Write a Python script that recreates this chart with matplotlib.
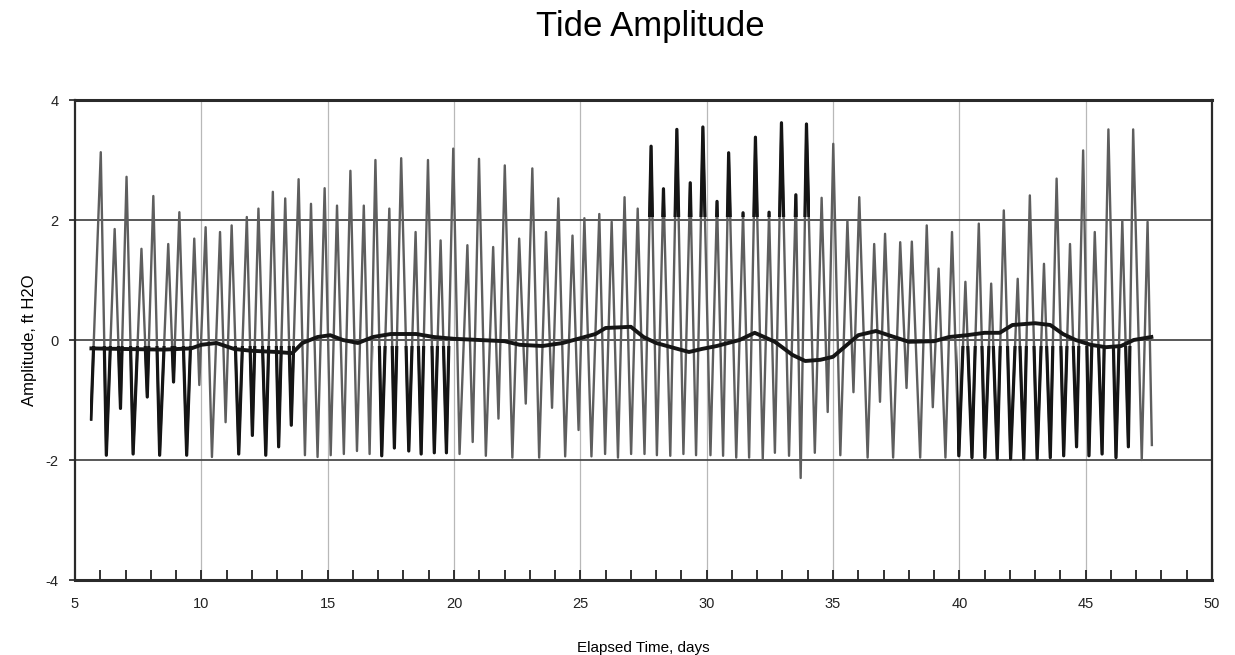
#!/usr/bin/env python3

import numpy as np
import matplotlib
matplotlib.use("Agg")
import matplotlib.pyplot as plt
from matplotlib.patches import Rectangle

# High and low tides, in time order (days, ft H2O)
high_t = [6.02, 6.57, 7.04, 7.63, 8.10, 8.69, 9.13, 9.72, 10.17, 10.74,
          11.20, 11.80, 12.26, 12.83, 13.32, 13.85, 14.34, 14.88, 15.37, 15.90,
          16.43, 16.89, 17.44, 17.91, 18.48, 18.97, 19.47, 19.97, 20.53, 20.99,
          21.55, 22.01, 22.58, 23.10, 23.64, 24.13, 24.69, 25.16, 25.75, 26.24,
          26.75, 27.27, 27.80, 28.29, 28.82, 29.35, 29.85, 30.41, 30.87, 31.44,
          31.93, 32.47, 32.96, 33.53, 33.95, 34.55, 35.01, 35.57, 36.04, 36.63,
          37.06, 37.66, 38.12, 38.71, 39.18, 39.71, 40.24, 40.77, 41.26, 41.76,
          42.31, 42.79, 43.35, 43.85, 44.38, 44.90, 45.36, 45.90, 46.45, 46.88,
          47.45]
high_v = [3.13, 1.85, 2.72, 1.52, 2.40, 1.60, 2.13, 1.69, 1.88, 1.80,
          1.91, 2.05, 2.19, 2.47, 2.36, 2.68, 2.27, 2.53, 2.24, 2.82,
          2.24, 3.00, 2.19, 3.03, 1.80, 3.00, 1.66, 3.19, 1.58, 3.02,
          1.55, 2.91, 1.69, 2.86, 1.80, 2.36, 1.74, 2.03, 2.10, 1.97,
          2.38, 2.19, 3.23, 2.52, 3.51, 2.62, 3.55, 2.31, 3.12, 2.12,
          3.38, 2.13, 3.62, 2.42, 3.60, 2.37, 3.27, 1.99, 2.38, 1.60,
          1.77, 1.63, 1.64, 1.91, 1.19, 1.80, 0.97, 1.94, 0.94, 2.16,
          1.02, 2.41, 1.27, 2.69, 1.60, 3.16, 1.80, 3.51, 1.99, 3.51,
          1.97]
# first and last entries are the start and end of the record
low_t = [5.63, 6.24, 6.80, 7.30, 7.86, 8.35, 8.90, 9.42, 9.92, 10.42, 10.96,
         11.48, 12.02, 12.55, 13.06, 13.56, 14.10, 14.60, 15.12, 15.64, 16.16,
         16.66, 17.14, 17.64, 18.21, 18.70, 19.22, 19.70, 20.22, 20.74, 21.26,
         21.76, 22.31, 22.84, 23.37, 23.88, 24.40, 24.93, 25.44, 25.98, 26.49,
         27.01, 27.54, 28.03, 28.56, 29.08, 29.58, 30.15, 30.65, 31.17, 31.68,
         32.22, 32.70, 33.26, 33.72, 34.28, 34.79, 35.29, 35.81, 36.37, 36.86,
         37.38, 37.91, 38.45, 38.95, 39.45, 39.98, 40.50, 41.01, 41.50, 42.03,
         42.55, 43.08, 43.60, 44.13, 44.64, 45.13, 45.65, 46.20, 46.69, 47.22,
         47.62]
low_v = [-1.32, -1.92, -1.14, -1.90, -0.95, -1.92, -0.70, -1.92, -0.75, -1.95, -1.37,
         -1.90, -1.59, -1.92, -1.78, -1.42, -1.92, -1.95, -1.92, -1.90, -1.85,
         -1.90, -1.93, -1.80, -1.85, -1.90, -1.88, -1.88, -1.90, -1.70, -1.93,
         -1.31, -1.96, -1.06, -1.96, -1.13, -1.94, -1.50, -1.94, -1.90, -1.96,
         -1.90, -1.90, -1.92, -1.93, -1.90, -1.92, -1.92, -1.93, -1.96, -1.96,
         -1.98, -1.88, -1.93, -2.30, -1.88, -1.20, -1.92, -0.87, -1.96, -1.03,
         -1.96, -0.80, -1.96, -1.12, -1.96, -1.93, -1.96, -1.96, -1.98, -1.98,
         -1.98, -1.98, -1.96, -1.93, -1.78, -1.93, -1.90, -1.96, -1.78, -2.00,
         -1.75]

# slowly varying mean level (thick line)
mean_t = [5.65, 7.0, 8.5, 9.6, 10.0, 10.6, 11.3, 12.0, 13.0, 13.6, 14.0, 14.6,
          15.1, 15.6, 16.2, 16.8, 17.5, 18.5, 19.2, 20.0, 21.0, 22.0, 22.6, 23.5,
          24.3, 25.0, 25.6, 26.0, 27.0, 27.5, 28.0, 28.6, 29.3, 29.8, 30.4, 31.3,
          31.9, 32.7, 33.4, 33.9, 34.5, 35.0, 35.5, 36.0, 36.7, 37.2, 38.0, 39.0,
          39.6, 40.3, 41.0, 41.6, 42.1, 43.0, 43.6, 44.1, 44.6, 45.2, 45.8, 46.4,
          46.9, 47.6]
mean_v = [-0.14, -0.15, -0.16, -0.14, -0.08, -0.05, -0.15, -0.18, -0.20, -0.22, -0.05, 0.05,
          0.08, 0.00, -0.05, 0.05, 0.10, 0.10, 0.05, 0.02, 0.00, -0.02, -0.08, -0.10,
          -0.05, 0.03, 0.10, 0.20, 0.22, 0.05, -0.05, -0.12, -0.20, -0.15, -0.10, 0.00,
          0.12, -0.03, -0.25, -0.35, -0.33, -0.28, -0.10, 0.08, 0.15, 0.08, -0.03, -0.02,
          0.05, 0.08, 0.12, 0.12, 0.25, 0.28, 0.25, 0.10, 0.00, -0.08, -0.12, -0.10,
          0.00, 0.05]

x_ticks = [5, 10, 15, 20, 25, 30, 35, 40, 45, 50]
y_ticks = [-4, -2, 0, 2, 4]

# merge highs and lows into one trace
tide_t = np.array(high_t + low_t)
tide_v = np.array(high_v + low_v)
order = np.argsort(tide_t)
tide_t = tide_t[order]
tide_v = tide_v[order]

plt.rcParams['font.family'] = ['Liberation Sans', 'DejaVu Sans']
plt.rcParams['axes.unicode_minus'] = False

fig = plt.figure(figsize=(12.35, 6.55), dpi=100)
ax = fig.add_axes([75/1235, 1 - 580/655, (1212 - 75)/1235, (580 - 100)/655])

# grid
for gx in x_ticks[1:-1]:
    ax.axvline(gx, color='#b8b8b8', lw=0.9, zorder=1)
for gy in [-2, 0, 2]:
    ax.axhline(gy, color='#4a4a4a', lw=1.3, zorder=1)

# tide trace in grey, with the darker pen stretches drawn over it
ax.plot(tide_t, tide_v, color='#5e5e5e', lw=1.7, zorder=2)
dark_lower = [(5.6, 9.7), (11.2, 13.7), (16.8, 20.0), (39.9, 46.9)]
dark_upper = [(27.6, 34.1)]
for x0, x1 in dark_lower:
    ln, = ax.plot(tide_t, tide_v, color='#151515', lw=2.3, zorder=3)
    ln.set_clip_path(Rectangle((x0, -4), x1 - x0, 3.9, transform=ax.transData))
for x0, x1 in dark_upper:
    ln, = ax.plot(tide_t, tide_v, color='#151515', lw=2.3, zorder=3)
    ln.set_clip_path(Rectangle((x0, 2.05), x1 - x0, 2, transform=ax.transData))

ax.plot(mean_t, mean_v, color='#151515', lw=2.8, zorder=4)

ax.set_xlim(5, 50)
ax.set_ylim(-4, 4)
ax.set_xticks(x_ticks)
ax.set_xticks(np.arange(5, 51, 1), minor=True)
ax.set_yticks(y_ticks)
ax.tick_params(axis='x', which='both', direction='in', length=7, width=1.3,
               colors='#222222', labelsize=10.5, pad=12)
ax.tick_params(axis='x', which='both', top=False)
ax.tick_params(axis='y', direction='out', length=4, width=1.2, labelsize=10.5,
               colors='#222222', pad=8)

for side, w in [('top', 2.2), ('bottom', 2.2), ('left', 1.6), ('right', 1.6)]:
    ax.spines[side].set_linewidth(w)
    ax.spines[side].set_color('#2a2a2a')

ax.set_xlabel('Elapsed Time, days', fontsize=11, labelpad=22)
ax.set_ylabel('Amplitude, ft H2O', fontsize=12, labelpad=6)
fig.suptitle('Tide Amplitude', x=650/1235, y=0.985, fontsize=25,
             family=['Liberation Sans Narrow', 'Liberation Sans'])

fig.savefig('out.png', dpi=100)
